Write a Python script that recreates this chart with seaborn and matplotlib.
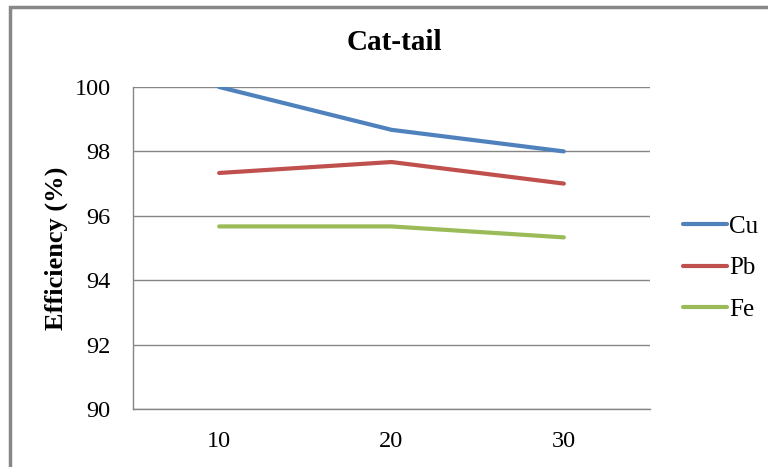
import matplotlib
matplotlib.use("Agg")
import matplotlib.pyplot as plt
import matplotlib.patches as mpatches
import seaborn as sns
import pandas as pd

# Data
dose = ["10", "20", "30"]
cu = [100.0, 98.67, 98.0]
pb = [97.33, 97.67, 97.0]
fe = [95.67, 95.67, 95.33]
metals = ["Cu", "Pb", "Fe"]
colors = ["#4F81BD", "#C0504D", "#9BBB59"]

df = pd.DataFrame({
    "dose": dose * 3,
    "eff": cu + pb + fe,
    "metal": [m for m in metals for _ in dose],
})

sns.set_style("white")
plt.rcParams["font.family"] = ["Liberation Serif", "DejaVu Serif"]
plt.rcParams["text.color"] = "black"

fig = plt.figure(figsize=(7.68, 4.67), dpi=100)
W, H = 768, 467
ax = fig.add_axes([133 / W, 1 - 409 / H, (650 - 133) / W, (409 - 87) / H])

sns.lineplot(data=df, x="dose", y="eff", hue="metal", hue_order=metals,
             palette=colors, linewidth=3, ax=ax, sort=False, legend=True)

ax.set_xlim(-0.5, 2.5)
ax.set_ylim(90, 100)
ax.set_yticks([90, 92, 94, 96, 98, 100])
ax.grid(axis="y", color="#868686", linewidth=1)
ax.grid(axis="x", visible=False)
ax.set_axisbelow(True)
for side in ["top", "right"]:
    ax.spines[side].set_visible(False)
for side in ["left", "bottom"]:
    ax.spines[side].set_color("#868686")
    ax.spines[side].set_linewidth(1)
ax.tick_params(axis="both", length=0, labelsize=17.5, colors="black")
ax.tick_params(axis="y", pad=16)
ax.tick_params(axis="x", pad=16)
ax.set_xlabel("")
ax.set_ylabel("Efficiency (%)", fontsize=19, fontweight="bold", labelpad=5,
              color="black")

fig.text(394 / W, 1 - 42 / H, "Cat-tail", fontsize=21, fontweight="bold",
         ha="center", va="center", color="black")

handles, labels = ax.get_legend_handles_labels()
leg = ax.legend(handles, labels, loc="center left",
                bbox_to_anchor=(678 / W, 1 - 268 / H), bbox_transform=fig.transFigure,
                frameon=False, fontsize=18, handlelength=1.75, handletextpad=0.1,
                labelspacing=0.75, borderpad=0.2, borderaxespad=0)
for t in leg.get_texts():
    t.set_color("black")

# chart frame
fig.patches.append(mpatches.Rectangle((9.5 / W, -0.05), 1.2, 1 - 7 / H + 0.05,
                                      transform=fig.transFigure, fill=False,
                                      edgecolor="#888888", linewidth=2.5))

fig.savefig("out.png", dpi=100)
